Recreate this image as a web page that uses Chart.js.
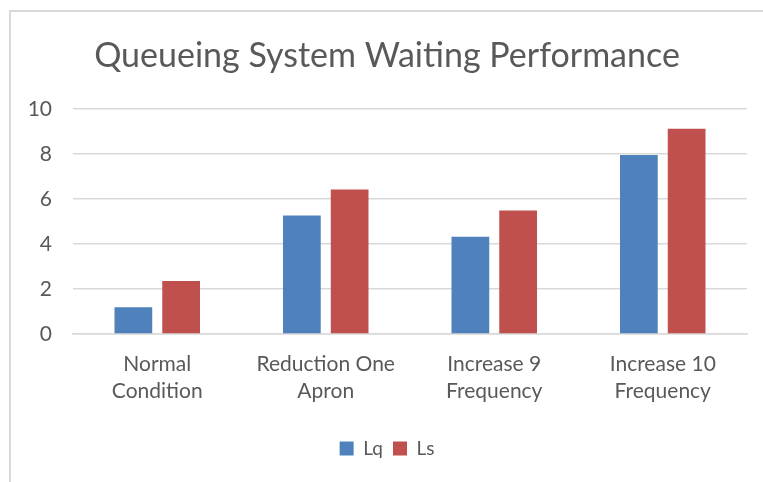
<!DOCTYPE html>
<html>
<head>
<meta charset="utf-8">
<script src="https://cdn.jsdelivr.net/npm/chart.js@4"></script>
<style>
  html, body { margin: 0; padding: 0; background: #fff; }
  #wrap { position: relative; width: 763px; height: 482px; }
  #frame { position: absolute; left: 9px; top: 10px; right: -5px; bottom: -5px;
           border-top: 2px solid #d9d9d9; border-left: 2px solid #d9d9d9; }
  canvas { position: absolute; left: 0; top: 0; }
</style>
</head>
<body>
<div id="wrap">
  <div id="frame"></div>
  <canvas id="queueChart" width="763" height="482"></canvas>
</div>
<script>
// chart values
const categories = [
    ['Normal', 'Condition'],
    ['Reduction One', 'Apron'],
    ['Increase 9', 'Frequency'],
    ['Increase 10', 'Frequency']
];
const lqValues = [1.19, 5.26, 4.32, 7.95];
const lsValues = [2.35, 6.42, 5.48, 9.11];
const yTicks = [0, 2, 4, 6, 8, 10];

const textGray = '#595959';
const gridGray = '#d9d9d9';

document.addEventListener('DOMContentLoaded', () => {
    const ctx = document.getElementById('queueChart').getContext('2d');

    new Chart(ctx, {
        type: 'bar',
        data: {
            labels: categories,
            datasets: [
                {
                    label: 'Lq',
                    data: lqValues,
                    backgroundColor: '#4F81BD',
                    categoryPercentage: 0.567,
                    barPercentage: 0.79
                },
                {
                    label: 'Ls',
                    data: lsValues,
                    backgroundColor: '#C0504D',
                    categoryPercentage: 0.567,
                    barPercentage: 0.79
                }
            ]
        },
        options: {
            responsive: false,
            animation: false,
            // left padding nudges title/legend toward the original frame centre
            layout: { padding: { left: 27, right: 16, top: 0, bottom: 14 } },
            plugins: {
                title: {
                    display: true,
                    text: 'Queueing System Waiting Performance',
                    color: textGray,
                    font: { family: 'Lato', size: 34, weight: '400' },
                    padding: { top: 36, bottom: 32 }
                },
                legend: {
                    position: 'bottom',
                    labels: {
                        color: textGray,
                        font: { family: 'Lato', size: 19 },
                        boxWidth: 14,
                        boxHeight: 14,
                        padding: 10
                    }
                },
                tooltip: { enabled: false }
            },
            scales: {
                x: {
                    grid: { display: false, drawTicks: false },
                    border: { display: true, color: gridGray, width: 1.5 },
                    ticks: {
                        color: textGray,
                        font: { family: 'Lato', size: 21, lineHeight: 1.28 },
                        padding: 17,
                        maxRotation: 0
                    },
                    afterFit: (scale) => { scale.height = 95; }
                },
                y: {
                    min: 0,
                    max: 10,
                    afterBuildTicks: (scale) => {
                        scale.ticks = yTicks.map(v => ({ value: v }));
                    },
                    grid: { color: gridGray, lineWidth: 1.5, drawTicks: false },
                    border: { display: false },
                    ticks: {
                        color: textGray,
                        font: { family: 'Lato', size: 21 },
                        padding: 21
                    },
                    afterFit: (scale) => { scale.width = 46; }
                }
            }
        }
    });
});
</script>
</body>
</html>
